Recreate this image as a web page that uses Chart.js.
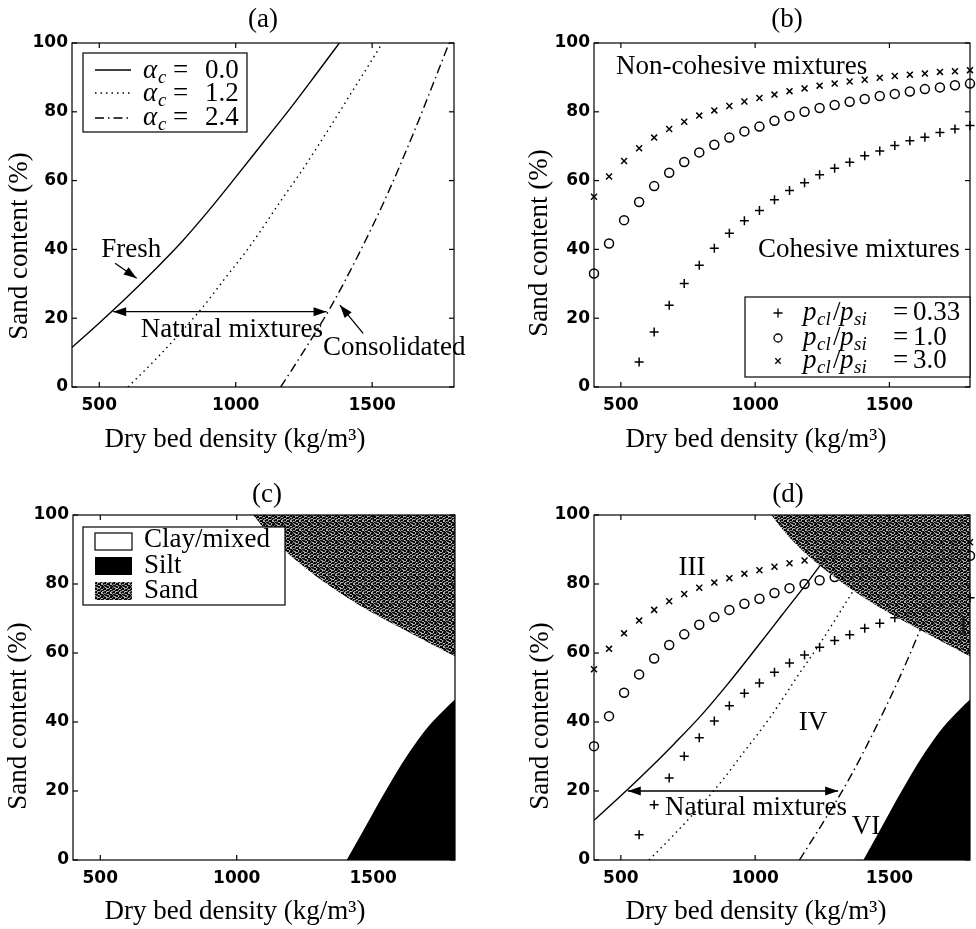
<!DOCTYPE html>
<html><head><meta charset="utf-8">
<script src="https://cdn.jsdelivr.net/npm/chart.js@4.4.1/dist/chart.umd.min.js"></script>
<style>
html,body{margin:0;padding:0;background:#fff}
body{width:976px;height:929px;position:relative;overflow:hidden}
canvas{position:absolute}
</style></head><body>
<canvas id="pa" width="488" height="464" style="left:0;top:0"></canvas>
<canvas id="pb" width="488" height="464" style="left:488px;top:0"></canvas>
<canvas id="pc" width="488" height="465" style="left:0;top:464px"></canvas>
<canvas id="pd" width="488" height="465" style="left:488px;top:464px"></canvas>
<script>
// ---------- data ----------
const densityTicks = [500, 1000, 1500];
const sandTicks = [0, 20, 40, 60, 80, 100];

// alpha_c curves (dry bed density, sand content %)
const freshDensity = [400, 500, 600, 700, 800, 900, 1000, 1100, 1200, 1300, 1380];
const freshSand    = [11.5, 18.6, 26, 33.8, 42, 51.2, 61, 71, 81, 91.5, 100];
const midDensity   = [605, 700, 800, 881, 960, 1048, 1173, 1235, 1333, 1430, 1522, 1537];
const midSand      = [0, 7.5, 16, 23.4, 31.5, 40.5, 55, 62, 74, 86.3, 98, 100];
const consDensity  = [1165, 1250, 1350, 1450, 1550, 1650, 1750, 1782];
const consSand     = [0, 10.5, 23.5, 38.5, 55, 73.5, 93.5, 100];

// p_cl/p_si scatter series
const ratioDensity = [400, 456, 512, 568, 624, 680, 736, 792, 848, 904, 960, 1016, 1072,
                      1128, 1184, 1240, 1296, 1352, 1408, 1464, 1520, 1576, 1632, 1688, 1744, 1800];
const ratio033 = [null, null, null, 7.3, 16, 23.8, 30.1, 35.4, 40.3, 44.7, 48.3, 51.3, 54.4,
                  57.1, 59.4, 61.7, 63.6, 65.3, 67.2, 68.6, 70.2, 71.6, 72.6, 74, 75, 76];
const ratio10  = [33, 41.7, 48.5, 53.8, 58.4, 62.3, 65.4, 68.2, 70.4, 72.5, 74.3, 75.7, 77.4,
                  78.8, 80, 81.1, 82, 82.9, 83.7, 84.6, 85.2, 85.9, 86.6, 87.1, 87.7, 88.2];
const ratio30  = [55.3, 61.2, 65.7, 69.4, 72.5, 75, 77.1, 78.9, 80.4, 81.7, 83, 84, 85,
                  86, 86.8, 87.6, 88.2, 88.8, 89.3, 89.9, 90.4, 90.8, 91.1, 91.6, 91.8, 92.1];

// region boundaries
const sandEdgeDensity = [1060, 1120, 1183, 1250, 1320, 1400, 1500, 1600, 1700, 1800];
const sandEdgeSand    = [100, 94.2, 89.2, 84.8, 80.6, 76.3, 71.5, 67.3, 63.1, 59];
const siltEdgeDensity = [1403, 1460, 1513, 1575, 1635, 1700, 1760, 1800];
const siltEdgeSand    = [0, 8, 15.5, 24, 31.5, 38.5, 43.5, 46.5];

// ---------- helpers ----------
const SERIF = '"Liberation Serif","Times New Roman",serif';
const TICKFONT = {family: '"DejaVu Sans"', weight: 'bold', size: 17};
const pts = (xs, ys) => xs.map((x, i) => ({x, y: ys[i]})).filter(p => p.y !== null);

function sandPattern() {
  const c = document.createElement('canvas'); c.width = 9; c.height = 9;
  const g = c.getContext('2d');
  const shades = [0, 0, 40, 150, 0, 100, 20, 170, 0, 70, 125, 30];
  for (let y = 0; y < 9; y++) for (let x = 0; x < 9; x++) {
    const k = ((x * 5 + y * 3) % 9 + (x * y) % 4) % 12;
    const v = shades[k];
    g.fillStyle = `rgba(${v},${v},${v},${v > 90 ? 0.8 : 1})`;
    g.fillRect(x, y, 1, 1);
  }
  return g.createPattern(c, 'repeat');
}
const SAND = sandPattern();

function lineDs(xs, ys, dash) {
  return {type: 'line', data: pts(xs, ys), borderColor: '#000', borderWidth: 1.4,
    borderDash: dash, borderCapStyle: 'butt', pointRadius: 0, fill: false,
    cubicInterpolationMode: 'monotone'};
}
function scatDs(xs, ys, style, r) {
  return {type: 'scatter', data: pts(xs, ys), pointStyle: style, pointRadius: r,
    pointBorderColor: '#000', pointBackgroundColor: 'rgba(0,0,0,0)', pointBorderWidth: 1.5,
    showLine: false, clip: false};
}
function regionDs(xs, ys, fill, bg) {
  return {type: 'line', data: pts(xs, ys), fill: fill, backgroundColor: bg, borderWidth: 0,
    borderColor: 'rgba(0,0,0,0)', pointRadius: 0, cubicInterpolationMode: 'monotone'};
}

function opts(padTop, padRight, yW, xH) {
  return {
    responsive: false, animation: false, devicePixelRatio: 1,
    layout: {padding: {left: 0, top: padTop, right: padRight, bottom: 0}},
    plugins: {legend: {display: false}, tooltip: {enabled: false},
      filler: {drawTime: 'beforeDatasetDraw'}},
    scales: {
      x: {type: 'linear', min: 400, max: 1800,
        afterBuildTicks: s => { s.ticks = densityTicks.map(v => ({value: v})); },
        afterFit: s => { s.height = xH; },
        grid: {display: false, drawTicks: false}, border: {display: false},
        ticks: {color: '#000', font: TICKFONT, padding: 8, maxRotation: 0, autoSkip: false,
          callback: v => String(v)}},
      y: {type: 'linear', min: 0, max: 100,
        afterBuildTicks: s => { s.ticks = sandTicks.map(v => ({value: v})); },
        afterFit: s => { s.width = yW; },
        grid: {display: false, drawTicks: false}, border: {display: false},
        ticks: {color: '#000', font: TICKFONT, padding: 4, autoSkip: false,
          callback: v => String(v)}}
    }
  };
}

function txt(ctx, s, x, y, font, align, base, color) {
  ctx.font = font; ctx.textAlign = align || 'left'; ctx.textBaseline = base || 'alphabetic';
  ctx.fillStyle = color || '#000'; ctx.fillText(s, x, y);
}
function seg(ctx, x1, y1, x2, y2) { ctx.beginPath(); ctx.moveTo(x1, y1); ctx.lineTo(x2, y2); ctx.stroke(); }
function head(ctx, xt, yt, xf, yf) {
  const a = Math.atan2(yt - yf, xt - xf), L = 13, W = 4.5;
  ctx.beginPath(); ctx.moveTo(xt, yt);
  ctx.lineTo(xt - L * Math.cos(a) + W * Math.sin(a), yt - L * Math.sin(a) - W * Math.cos(a));
  ctx.lineTo(xt - L * Math.cos(a) - W * Math.sin(a), yt - L * Math.sin(a) + W * Math.cos(a));
  ctx.closePath(); ctx.fill();
}
function arrow(ctx, x1, y1, x2, y2, both) {
  ctx.save(); ctx.strokeStyle = '#000'; ctx.fillStyle = '#000'; ctx.lineWidth = 1.3; ctx.setLineDash([]);
  seg(ctx, x1, y1, x2, y2); head(ctx, x2, y2, x1, y1); if (both) head(ctx, x1, y1, x2, y2);
  ctx.restore();
}
function frame(ctx, ch) {
  const a = ch.chartArea, sx = ch.scales.x, sy = ch.scales.y;
  ctx.save(); ctx.strokeStyle = '#000'; ctx.lineWidth = 1.2; ctx.setLineDash([]);
  ctx.strokeRect(a.left, a.top, a.right - a.left, a.bottom - a.top);
  for (const v of densityTicks) { const x = sx.getPixelForValue(v); seg(ctx, x, a.bottom, x, a.bottom - 5); seg(ctx, x, a.top, x, a.top + 5); }
  for (const v of sandTicks) { const y = sy.getPixelForValue(v); seg(ctx, a.left, y, a.left + 5, y); seg(ctx, a.right, y, a.right - 5, y); }
  ctx.restore();
}
function P(ch, x, y) { return [ch.scales.x.getPixelForValue(x), ch.scales.y.getPixelForValue(y)]; }
function axisTitles(ctx, ch, title, tX, tY, xTX, xTY, yTX, yTY) {
  txt(ctx, title, tX, tY, '27px ' + SERIF, 'center');
  txt(ctx, 'Dry bed density (kg/m³)', xTX, xTY, '27px ' + SERIF, 'center');
  ctx.save(); ctx.translate(yTX, yTY); ctx.rotate(-Math.PI / 2);
  txt(ctx, 'Sand content (%)', 0, 0, '27px ' + SERIF, 'center', 'middle');
  ctx.restore();
}
function legendBox(ctx, x, y, w, h) {
  ctx.save(); ctx.fillStyle = '#fff'; ctx.fillRect(x, y, w, h);
  ctx.strokeStyle = '#000'; ctx.lineWidth = 1.2; ctx.strokeRect(x, y, w, h); ctx.restore();
}
function decor(id, fn) { return {id: id, afterDraw(ch) { const c = ch.ctx; c.save(); fn(c, ch); c.restore(); }}; }

// ---------- panel (a) : canvas origin (0,0) ----------
new Chart(document.getElementById('pa'), {
  type: 'scatter',
  data: {datasets: [
    lineDs(freshDensity, freshSand, []),
    lineDs(midDensity, midSand, [1.5, 4]),
    lineDs(consDensity, consSand, [9, 4, 1.5, 4])
  ]},
  options: opts(43, 34, 72, 77),
  plugins: [decor('da', (ctx, ch) => {
    frame(ctx, ch);
    axisTitles(ctx, ch, '(a)', 263, 27, 235, 447, 20, 246);
    legendBox(ctx, 83, 53, 164, 79);
    const rows = [[70, 78, [], '0.0'], [93, 101, [1.5, 4], '1.2'], [118, 125, [9, 4, 1.5, 4], '2.4']];
    for (const [ly, by, dash, val] of rows) {
      ctx.save(); ctx.strokeStyle = '#000'; ctx.lineWidth = 1.4; ctx.setLineDash(dash);
      seg(ctx, 95, ly, 131, ly); ctx.restore();
      txt(ctx, 'α', 143, by, 'italic 27px ' + SERIF);
      txt(ctx, 'c', 158, by + 5, 'italic 19px ' + SERIF);
      txt(ctx, '=', 173, by, '27px ' + SERIF);
      txt(ctx, val, 205, by, '27px ' + SERIF);
    }
    let p = P(ch, 617, 39.8); txt(ctx, 'Fresh', p[0], p[1], '27px ' + SERIF, 'center', 'middle');
    let t = P(ch, 558, 36), h = P(ch, 637, 31.6); arrow(ctx, t[0], t[1], h[0], h[1], false);
    let a1 = P(ch, 551, 21.9), a2 = P(ch, 1333, 21.9); arrow(ctx, a1[0], a1[1], a2[0], a2[1], true);
    p = P(ch, 986, 16.6); txt(ctx, 'Natural mixtures', p[0], p[1], '27px ' + SERIF, 'center', 'middle');
    p = P(ch, 1320, 11.3); txt(ctx, 'Consolidated', p[0], p[1], '27px ' + SERIF, 'left', 'middle');
    t = P(ch, 1467, 15.6); h = P(ch, 1382, 23.8); arrow(ctx, t[0], t[1], h[0], h[1], false);
  })]
});

// ---------- panel (b) : canvas origin (488,0) ----------
new Chart(document.getElementById('pb'), {
  type: 'scatter',
  data: {datasets: [
    scatDs(ratioDensity, ratio033, 'cross', 4.5),
    scatDs(ratioDensity, ratio10, 'circle', 4.5),
    scatDs(ratioDensity, ratio30, 'crossRot', 4.2)
  ]},
  options: opts(43, 3, 106, 77),
  plugins: [decor('db', (ctx, ch) => {
    frame(ctx, ch);
    axisTitles(ctx, ch, '(b)', 299, 27, 268, 447, 52, 243);
    txt(ctx, 'Non-cohesive mixtures', 128, 67, '27px ' + SERIF, 'left', 'middle');
    txt(ctx, 'Cohesive mixtures', 270, 250, '27px ' + SERIF, 'left', 'middle');
    legendBox(ctx, 257, 297, 225, 80);
    const rows = [[313, 320, 'cross', '0.33'], [338, 345, 'circle', '1.0'], [361, 368, 'crossRot', '3.0']];
    for (const [my, by, st, val] of rows) {
      ctx.save(); ctx.strokeStyle = '#000'; ctx.fillStyle = 'rgba(0,0,0,0)'; ctx.lineWidth = 1.3;
      const r = st === 'circle' ? 4 : (st === 'cross' ? 4.5 : 3.8);
      Chart.helpers.drawPoint(ctx, {pointStyle: st, radius: r, borderWidth: 1.3}, 290, my);
      ctx.restore();
      txt(ctx, 'p', 315, by, 'italic 27px ' + SERIF);
      txt(ctx, 'cl', 329, by + 5, 'italic 19px ' + SERIF);
      txt(ctx, '/', 345, by, '27px ' + SERIF);
      txt(ctx, 'p', 352, by, 'italic 27px ' + SERIF);
      txt(ctx, 'si', 366, by + 5, 'italic 19px ' + SERIF);
      txt(ctx, '=', 405, by, '27px ' + SERIF);
      txt(ctx, val, 425, by, '27px ' + SERIF);
    }
  })]
});

// ---------- panel (c) : canvas origin (0,464) ----------
new Chart(document.getElementById('pc'), {
  type: 'scatter',
  data: {datasets: [
    regionDs(sandEdgeDensity, sandEdgeSand, 'end', SAND),
    regionDs(siltEdgeDensity, siltEdgeSand, 'start', '#000')
  ]},
  options: opts(51, 33, 73, 69),
  plugins: [decor('dc', (ctx, ch) => {
    frame(ctx, ch);
    axisTitles(ctx, ch, '(c)', 267, 38, 235, 455, 19, 252);
    legendBox(ctx, 83, 63, 202, 78);
    ctx.save();
    ctx.fillStyle = '#fff'; ctx.strokeStyle = '#000'; ctx.lineWidth = 1.2;
    ctx.fillRect(95, 69, 37, 17); ctx.strokeRect(95, 69, 37, 17);
    ctx.fillStyle = '#000'; ctx.fillRect(95, 93, 37, 18);
    ctx.fillStyle = SAND; ctx.fillRect(95, 118, 37, 18);
    ctx.restore();
    txt(ctx, 'Clay/mixed', 144, 83, '27px ' + SERIF);
    txt(ctx, 'Silt', 144, 109, '27px ' + SERIF);
    txt(ctx, 'Sand', 144, 134, '27px ' + SERIF);
  })]
});

// ---------- panel (d) : canvas origin (488,464) ----------
new Chart(document.getElementById('pd'), {
  type: 'scatter',
  data: {datasets: [
    regionDs(sandEdgeDensity, sandEdgeSand, 'end', SAND),
    regionDs(siltEdgeDensity, siltEdgeSand, 'start', '#000'),
    scatDs(ratioDensity, ratio033, 'cross', 4.5),
    scatDs(ratioDensity, ratio10, 'circle', 4.5),
    scatDs(ratioDensity, ratio30, 'crossRot', 4.2),
    lineDs(freshDensity, freshSand, []),
    lineDs(midDensity, midSand, [1.5, 4]),
    lineDs(consDensity, consSand, [9, 4, 1.5, 4])
  ]},
  options: opts(51, 3, 106, 69),
  plugins: [decor('dd', (ctx, ch) => {
    frame(ctx, ch);
    axisTitles(ctx, ch, '(d)', 300, 38, 268, 455, 53, 252);
    txt(ctx, 'III', 204, 104, '27px ' + SERIF, 'center', 'middle');
    txt(ctx, 'IV', 325, 259, '27px ' + SERIF, 'center', 'middle');
    txt(ctx, 'VI', 378, 363, '27px ' + SERIF, 'center', 'middle');
    txt(ctx, 'Natural mixtures', 268, 344, '27px ' + SERIF, 'center', 'middle');
    const a1 = P(ch, 526, 20), a2 = P(ch, 1309, 20); arrow(ctx, a1[0], a1[1], a2[0], a2[1], true);
    const a = ch.chartArea;
    ctx.save(); ctx.beginPath(); ctx.rect(a.left, a.top, a.right - a.left, a.bottom - a.top); ctx.clip();
    txt(ctx, 'II', 480, 163, '27px ' + SERIF, 'center', 'middle', '#1a1a1a');
    ctx.restore();
  })]
});
</script>
</body></html>
